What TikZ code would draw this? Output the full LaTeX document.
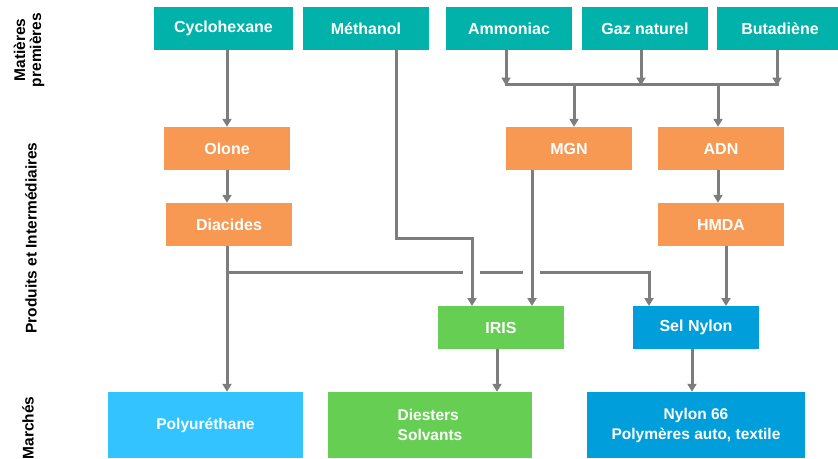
\documentclass[tikz,border=0pt]{standalone}
\usepackage{fontspec}
\setmainfont{Liberation Sans}
\usetikzlibrary{arrows.meta}
\definecolor{teal1}{RGB}{0,178,169}
\definecolor{orange1}{RGB}{247,153,82}
\definecolor{green1}{RGB}{102,206,82}
\definecolor{lblue}{RGB}{51,195,255}
\definecolor{dblue}{RGB}{0,158,219}
\definecolor{arrowgray}{RGB}{125,125,125}
\tikzset{
  box/.style={inner sep=0pt, text=white, font=\bfseries\fontsize{16}{19}\selectfont, minimum height=43pt},
  tealbox/.style={box, fill=teal1, minimum width=126pt},
  orbox/.style={box, fill=orange1, minimum width=126pt},
  mkbox/.style={box, font=\bfseries\fontsize{15.5}{20}\selectfont, minimum height=66pt},
  conn/.style={draw=arrowgray, line width=3pt},
  arr/.style={conn, -{Triangle[width=9pt,length=8pt]}},
  side/.style={rotate=90, font=\bfseries\fontsize{15.5}{16}\selectfont, align=center}
}
\begin{document}
\begin{tikzpicture}[x=1pt,y=-1pt]
\useasboundingbox (0,0) rectangle (838,458);
\clip (0,0) rectangle (838,458);
% side labels
\node[side] (lmp) at (29,50) {Matières\\premières};
\node[side] (lpi) at (31,238) {Produits et Intermédiaires};
\node[side] (lmk) at (28,428) {Marchés};
% raw materials
\node[tealbox, minimum width=139pt] (cyc) at (223.5,28.5) {Cyclohexane};
\node[tealbox] (meth) at (366,28.5) {Méthanol};
\node[tealbox] (amm) at (509,28.5) {Ammoniac};
\node[tealbox] (gaz) at (645,28.5) {Gaz naturel};
\node[tealbox] (but) at (780,28.5) {Butadiène};
% intermediates
\node[orbox] (olone) at (227,148.5) {Olone};
\node[orbox] (diac) at (229,224.5) {Diacides};
\node[orbox] (mgn) at (569,148.5) {MGN};
\node[orbox] (adn) at (721,148.5) {ADN};
\node[orbox] (hmda) at (721,224.5) {HMDA};
\node[box, fill=green1, minimum width=126pt] (iris) at (501,327.5) {IRIS};
\node[box, fill=dblue, minimum width=126pt] (sel) at (696,327.5) {Sel Nylon};
% markets
\node[mkbox, fill=lblue, minimum width=195pt] (poly) at (205.5,425) {Polyuréthane};
\node[mkbox, fill=green1, minimum width=204pt, align=left] (dies) at (430,425) {Diesters\\Solvants};
\node[mkbox, fill=dblue, minimum width=218pt, align=center] (nyl) at (696,425) {Nylon 66\\Polymères auto, textile};
% coordinates
\coordinate (bA) at (506,84);
\coordinate (bG) at (641,84);
\coordinate (bB) at (777,84);
\coordinate (bM) at (574,84);
\coordinate (bD) at (718,84);
\coordinate (mt) at (396,238);
\coordinate (irisA) at (472,306);
\coordinate (irisB) at (532,306);
\coordinate (selA) at (649,306);
\coordinate (selB) at (726,306);
\coordinate (h0) at (227,272);
\coordinate (g1) at (463,272);
\coordinate (g2) at (480,272);
\coordinate (g3) at (523,272);
\coordinate (g4) at (540,272);
% connectors
\draw[arr] (olone.north |- cyc.south) -- (olone.north);
\draw[arr] (olone.south) -- (olone.south |- diac.north);
\draw[arr] (meth.south -| mt) -- (mt) -| (irisA);
\draw[arr] (amm.south -| bA) -- ([yshift=-1.5pt]bA);
\draw[arr] (gaz.south -| bG) -- ([yshift=-1.5pt]bG);
\draw[arr] (but.south -| bB) -- ([yshift=-1.5pt]bB);
\draw[conn] ([xshift=-1.5pt]bA) -- ([xshift=1.5pt]bB);
\draw[arr] (bM) -- (mgn.north -| bM);
\draw[arr] (bD) -- (adn.north -| bD);
\draw[arr] (adn.south -| bD) -- (hmda.north -| bD);
\draw[arr] (mgn.south -| irisB) -- (irisB);
\draw[arr] (hmda.south -| selB) -- (selB);
\draw[arr] (diac.south -| h0) -- (poly.north -| h0);
\draw[conn] ([xshift=-1.5pt]h0) -- (g1);
\draw[conn] (g2) -- (g3);
\draw[arr] (g4) -| (selA);
\draw[arr] (iris.south -| 497,0) -- (dies.north -| 497,0);
\draw[arr] (sel.south -| 692,0) -- (nyl.north -| 692,0);
\end{tikzpicture}
\end{document}
